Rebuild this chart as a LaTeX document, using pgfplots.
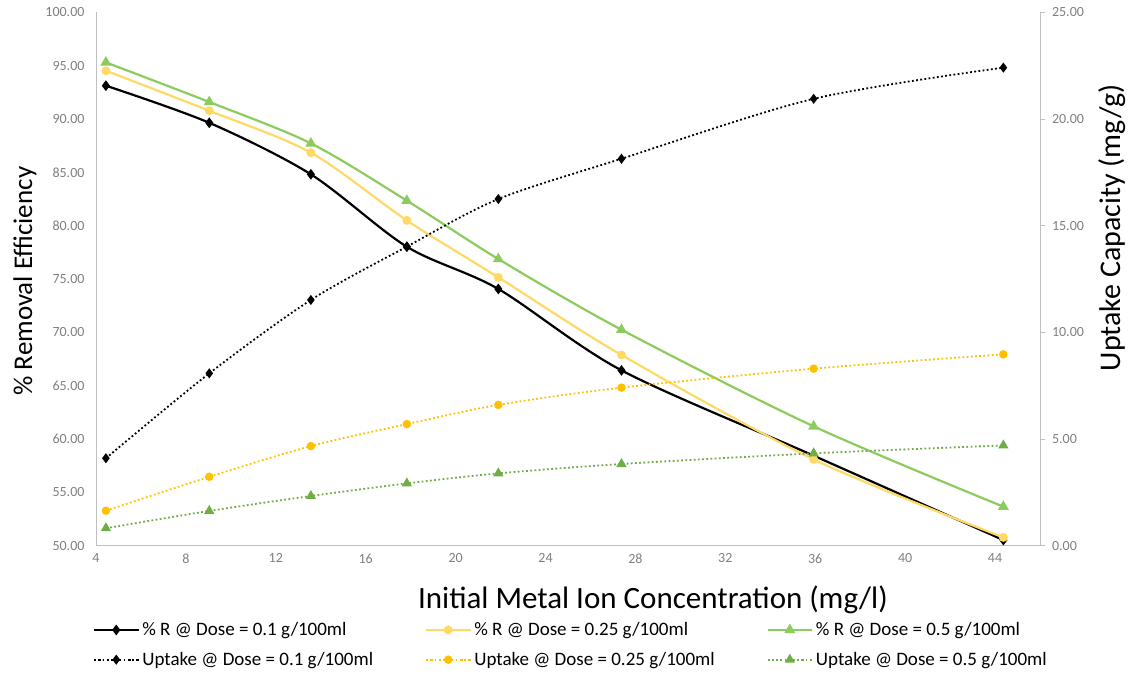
\documentclass[border=0pt]{standalone}
\usepackage{fontspec}
\setmainfont{Carlito}
\usepackage{pgfplots}
\pgfplotsset{compat=1.18}
\definecolor{tickgray}{HTML}{7F7F7F}
\definecolor{axgray}{HTML}{BFBFBF}
\definecolor{ylw}{HTML}{FFD966}
\definecolor{ylwd}{HTML}{FFC000}
\definecolor{grn}{HTML}{8CCB5E}
\definecolor{grnd}{HTML}{70AD47}

\pgfplotstableread{
x      r01    r025   r05    u01    u025  u05
4.44   93.13  94.53  95.31  4.10   1.64  0.82
9.04   89.65  90.78  91.60  8.08   3.23  1.63
13.56  84.82  86.85  87.72  11.52  4.67  2.33
17.83  78.03  80.50  82.35  14.02  5.70  2.92
21.90  74.07  75.16  76.88  16.25  6.60  3.39
27.38  66.44  67.88  70.25  18.14  7.41  3.83
35.93  58.44  58.09  61.19  20.95  8.30  4.33
44.37  50.53  50.78  53.66  22.41  8.97  4.70
}\data

\pgfplotsset{
  common/.style={
    scale only axis, width=944pt, height=533.3pt,
    at={(96pt,129.3pt)}, anchor=south west,
    xmin=4, xmax=46,
    /pgf/number format/assume math mode=true,
    axis line style={axgray, line width=0.9pt},
    tick label style={font=\fontsize{14}{16}\selectfont, text=tickgray},
    legend image code/.code={\draw[mark repeat=2,mark phase=2] plot coordinates {(0pt,0pt) (22pt,0pt) (44pt,0pt)};},
  },
  rline/.style={smooth, tension=0.5, line width=2.2pt, mark options={solid}},
  uline/.style={smooth, tension=0.5, line width=1.8pt, dash pattern=on 1.8pt off 2.4pt, mark options={solid}},
}

\begin{document}
\begin{tikzpicture}
\useasboundingbox (0,0) rectangle (1134pt,675pt);
\begin{axis}[
  common,
  ymin=50, ymax=100,
  xtick={4,8,...,44}, ytick={50,55,...,100},
  axis x line*=bottom, axis y line*=left,
  major tick length=0pt,
  xticklabel style={yshift=-4.5pt},
  yticklabel style={xshift=-8pt, /pgf/number format/.cd, fixed, fixed zerofill, precision=2},
  xlabel={Initial Metal Ion Concentration (mg/l)},
  xlabel style={font=\fontsize{31}{34}\selectfont, at={(axis description cs:0.590,-0.102)}, anchor=center},
  ylabel={\% Removal Efficiency},
  ylabel style={font=\fontsize{27}{30}\selectfont, at={(axis description cs:-0.0752,0.496)}, anchor=center},
]
\addplot[rline, black, mark=diamond*, mark size=3.6pt] table[x=x, y=r01] {\data};
\addplot[rline, ylw, mark=*, mark size=3.3pt] table[x=x, y=r025] {\data};
\addplot[rline, grn, mark=triangle*, mark size=4.2pt] table[x=x, y=r05] {\data};
\end{axis}
\begin{axis}[
  common,
  ymin=0, ymax=25,
  ytick={0,5,...,25},
  axis x line=none, axis y line*=right,
  tick style={axgray, line width=0.9pt},
  tick align=outside, major tick length=5pt,
  yticklabel style={xshift=3.5pt, /pgf/number format/.cd, fixed, fixed zerofill, precision=2},
  ylabel={Uptake Capacity (mg/g)},
  ylabel style={font=\fontsize{30}{33}\selectfont, at={(axis description cs:1.0763,0.596)}, anchor=center},
  legend columns=3,
  legend cell align=left,
  legend style={draw=none, fill=none, inner sep=0pt, outer sep=0pt,
    at={(axis description cs:-0.003,-0.1405)}, anchor=north west,
    font=\fontsize{19}{22}\selectfont, row sep=11pt,
    /tikz/every even column/.append style={column sep=50pt},
    /tikz/every odd column/.append style={column sep=1pt}},
]
\addlegendimage{rline, black, mark=diamond*, mark size=3.6pt}
\addlegendentry{\% R @ Dose = 0.1 g/100ml}
\addlegendimage{rline, ylw, mark=*, mark size=3.3pt}
\addlegendentry{\% R @ Dose = 0.25 g/100ml}
\addlegendimage{rline, grn, mark=triangle*, mark size=4.2pt}
\addlegendentry{\% R @ Dose = 0.5 g/100ml}
\addplot[uline, black, mark=diamond*, mark size=3.6pt] table[x=x, y=u01] {\data};
\addlegendentry{Uptake @ Dose = 0.1 g/100ml}
\addplot[uline, ylwd, mark=*, mark size=3.3pt] table[x=x, y=u025] {\data};
\addlegendentry{Uptake @ Dose = 0.25 g/100ml}
\addplot[uline, grnd, mark=triangle*, mark size=4.2pt] table[x=x, y=u05] {\data};
\addlegendentry{Uptake @ Dose = 0.5 g/100ml}
\end{axis}
\end{tikzpicture}
\end{document}
